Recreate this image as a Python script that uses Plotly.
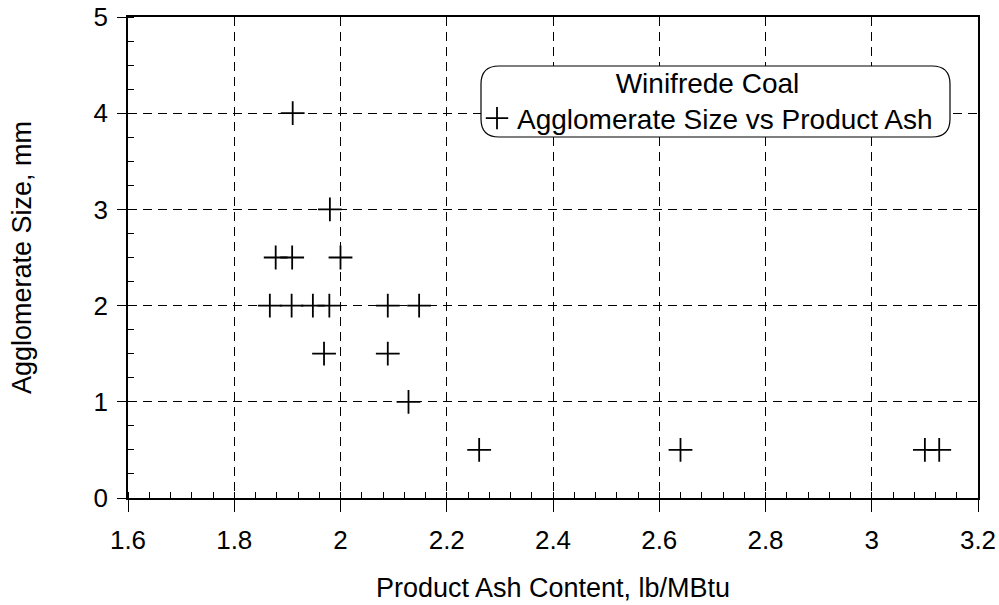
import plotly.graph_objects as go

# Winifrede coal: agglomerate size against product ash content
ash_content = [1.91, 1.98, 1.878, 1.909, 2.0, 1.867, 1.908, 1.948, 1.979,
               2.089, 2.148, 1.969, 2.089, 2.128, 2.261, 2.64, 3.10, 3.127]
agglomerate_size = [4, 3, 2.5, 2.5, 2.5, 2, 2, 2, 2,
                    2, 2, 1.5, 1.5, 1, 0.5, 0.5, 0.5, 0.5]

x_ticks = [1.6, 1.8, 2.0, 2.2, 2.4, 2.6, 2.8, 3.0, 3.2]
x_tick_labels = ["1.6", "1.8", "2", "2.2", "2.4", "2.6", "2.8", "3", "3.2"]
y_ticks = [0, 1, 2, 3, 4, 5]

FONT = "Liberation Sans, Arial, sans-serif"

fig = go.Figure()
fig.add_trace(go.Scatter(
    x=ash_content, y=agglomerate_size, mode="markers",
    name="Agglomerate Size vs Product Ash",
    marker=dict(symbol="cross-thin", size=17, color="black",
                line=dict(color="black", width=1.8)),
))

W, H = 999, 605
L, R, T, B = 128, 21, 17, 107
pw, ph = W - L - R, H - T - B


def px_x(p):
    return (p - L) / pw


def px_y(p):
    return (H - B - p) / ph


# rounded legend frame
x0, x1 = px_x(481), px_x(950)
y0, y1 = px_y(137), px_y(66)
rx, ry = 18 / pw, 18 / ph
path = (f"M {x0+rx},{y1} L {x1-rx},{y1} Q {x1},{y1} {x1},{y1-ry} "
        f"L {x1},{y0+ry} Q {x1},{y0} {x1-rx},{y0} L {x0+rx},{y0} "
        f"Q {x0},{y0} {x0},{y0+ry} L {x0},{y1-ry} Q {x0},{y1} {x0+rx},{y1} Z")
fig.add_shape(type="path", path=path, xref="paper", yref="paper",
              fillcolor="white", line=dict(color="black", width=1.2),
              layer="above")

grid = dict(showgrid=True, gridcolor="black", gridwidth=1, griddash="9px,6px")

fig.update_xaxes(
    range=[1.6, 3.2], tickvals=x_ticks, ticktext=x_tick_labels,
    ticks="outside", ticklen=12, tickwidth=1.2, tickcolor="black",
    minor=dict(dtick=0.04, ticks="inside", ticklen=6, tickwidth=1,
               tickcolor="black", showgrid=False),
    showline=True, linecolor="black", linewidth=2, mirror=True,
    zeroline=False, ticklabelstandoff=6,
    tickfont=dict(family=FONT, size=26, color="black"),
    title=dict(text="Product Ash Content, lb/MBtu", standoff=24,
               font=dict(family=FONT, size=27, color="black")),
    **grid,
)
fig.update_yaxes(
    range=[0, 5], tickvals=y_ticks,
    ticks="outside", ticklen=9, tickwidth=1.2, tickcolor="black",
    minor=dict(dtick=0.25, ticks="inside", ticklen=6, tickwidth=1,
               tickcolor="black", showgrid=False),
    showline=True, linecolor="black", linewidth=1.5, mirror=True,
    zeroline=False, ticklabelstandoff=4,
    tickfont=dict(family=FONT, size=26, color="black"),
    title=dict(text="Agglomerate Size, mm", standoff=54,
               font=dict(family=FONT, size=27, color="black")),
    **grid,
)

fig.update_layout(
    width=W, height=H,
    margin=dict(l=L, r=R, t=T, b=B, autoexpand=False),
    paper_bgcolor="white", plot_bgcolor="white",
    showlegend=True,
    legend=dict(
        x=px_x(477), xanchor="left", y=px_y(57), yanchor="top",
        bgcolor="rgba(0,0,0,0)", borderwidth=0,
        title=dict(text="Winifrede Coal", side="top center",
                   font=dict(family=FONT, size=28, color="black")),
        font=dict(family=FONT, size=28, color="black"),
        tracegroupgap=0,
    ),
)

fig.write_html("out.html")
